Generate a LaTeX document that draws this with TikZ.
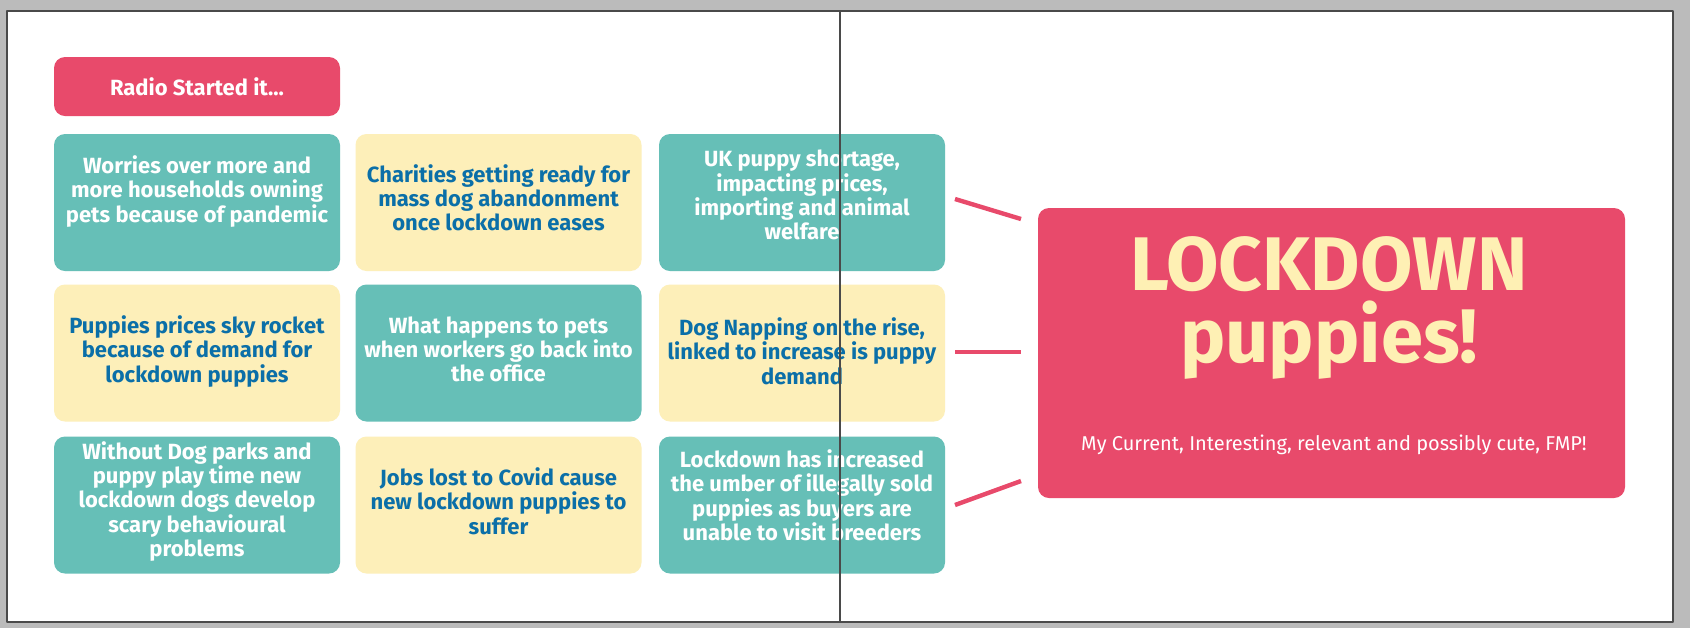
\documentclass[tikz,border=0pt]{standalone}
\usepackage{fontspec}
\setmainfont{Fira Sans}
\usepackage{xcolor}

\definecolor{lockpink}{HTML}{E84A6B}
\definecolor{lockteal}{HTML}{66BFB7}
\definecolor{lockcream}{HTML}{FDEFB9}
\definecolor{lockblue}{HTML}{0B6FA8}
\definecolor{titlecream}{HTML}{FEF0B4}
\definecolor{pagegray}{HTML}{BBBBBB}
\definecolor{framegray}{HTML}{4A4A4A}

\begin{document}
\begin{tikzpicture}[x=0.5pt, y=-0.5pt]
  \tikzstyle{myline}=[line cap=round, line join=round];
  %
  % page
  \fill[pagegray] (0, 0) rectangle (1690, 628);
  \draw[myline, fill=white, draw=framegray, line width=1pt] (7, 11) rectangle (1673, 622);
  %
  % cards
  \tikzstyle{card}=[rounded corners=5.5pt, minimum width=143pt, minimum height=68.5pt,
    align=center, inner sep=0pt, font=\bfseries\fontsize{11}{12.15}\selectfont];
  \tikzstyle{tealcard}=[card, fill=lockteal, text=white];
  \tikzstyle{creamcard}=[card, fill=lockcream, text=lockblue];
  \node[card, fill=lockpink, text=white, minimum height=29.5pt] (radio) at (197, 86.5) {Radio Started it...};
  % first row
  \node[tealcard, text depth=13.5pt] (worries) at (197, 202.5) {Worries over more and\\more households owning\\pets because of pandemic};
  \node[creamcard, text depth=5pt] (charities) at (498.5, 202.5) {Charities getting ready for\\mass dog abandonment\\once lockdown eases};
  \node[tealcard, text depth=7.5pt] (shortage) at (802, 202.5) {UK puppy shortage,\\impacting prices,\\importing and animal\\welfare};
  % second row
  \node[creamcard, text depth=4pt] (prices) at (197, 353) {Puppies prices sky rocket\\because of demand for\\lockdown puppies};
  \node[tealcard, text depth=4pt] (office) at (498.5, 353) {What happens to pets\\when workers go back into\\the office};
  \node[creamcard, text depth=2pt] (napping) at (802, 353) {Dog Napping on the rise,\\linked to increase is puppy\\demand};
  % third row
  \node[tealcard, text depth=6pt] (parks) at (197, 505) {Without Dog parks and\\puppy play time new\\lockdown dogs develop\\scary behavioural\\problems};
  \node[creamcard, text depth=4pt] (jobs) at (498.5, 505) {Jobs lost to Covid cause\\new lockdown puppies to\\suffer};
  \node[tealcard, text depth=10pt] (illegal) at (802, 505) {Lockdown has increased\\the umber of illegally sold\\puppies as buyers are\\unable to visit breeders};
  %
  % main box
  \node[card, fill=lockpink, minimum width=293.5pt, minimum height=145pt] (main) at (1331.5, 353) {};
  \node[align=center, text=titlecream, inner sep=0pt,
    font=\bfseries\fontsize{38}{36}\selectfont] (title) at (1329, 308) {LOCKDOWN\\puppies!};
  \node[text=white, inner sep=0pt, font=\fontsize{10}{12}\selectfont] (subtitle) at (1334, 445)
    {My Current, Interesting, relevant and possibly cute, FMP!};
  %
  % links to the main box
  \tikzstyle{link}=[draw=lockpink, line width=2.2pt];
  \coordinate (linkAa) at (955, 199);
  \coordinate (linkAb) at (1021, 219);
  \coordinate (linkBa) at (955, 352);
  \coordinate (linkBb) at (1021, 352);
  \coordinate (linkCa) at (955, 505);
  \coordinate (linkCb) at (1021, 481);
  \draw[link] (linkAa) -- (linkAb);
  \draw[link] (linkBa) -- (linkBb);
  \draw[link] (linkCa) -- (linkCb);
  %
  % fold line of the page
  \draw[draw=framegray, line width=0.6pt] (840, 11) -- (840, 622);
\end{tikzpicture}
\end{document}
